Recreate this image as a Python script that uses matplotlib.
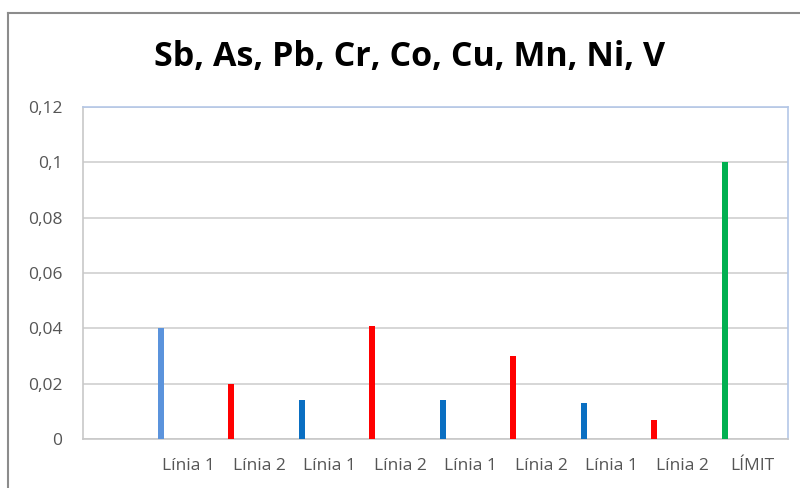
import numpy as np
import matplotlib.pyplot as plt
from matplotlib.lines import Line2D
from matplotlib.ticker import FixedLocator

categories = ['', 'Línia 1', 'Línia 2', 'Línia 1', 'Línia 2', 'Línia 1',
              'Línia 2', 'Línia 1', 'Línia 2', 'LÍMIT']
values = [0.0, 0.04, 0.02, 0.014, 0.041, 0.014, 0.03, 0.013, 0.007, 0.1]
colors = ['white', '#5B93DC', '#FF0000', '#0A6FC2', '#FF0000', '#0A6FC2',
          '#FF0000', '#0A6FC2', '#FF0000', '#00B050']
yticks = [0, 0.02, 0.04, 0.06, 0.08, 0.1, 0.12]
ytick_labels = ['0', '0,02', '0,04', '0,06', '0,08', '0,1', '0,12']
title = 'Sb, As, Pb, Cr, Co, Cu, Mn, Ni, V'

plt.rcParams['font.family'] = ['Open Sans', 'DejaVu Sans']

fig = plt.figure(figsize=(8, 4.88), dpi=100)
ax = fig.add_axes([83/800, 49/488, 705/800, 332/488])

x = np.arange(len(categories))
ax.bar(x[1:] - 0.4, values[1:], width=0.085, color=colors[1:], zorder=3)

ax.set_xlim(-0.5, len(categories) - 0.5)
ax.set_ylim(0, 0.12)
ax.yaxis.set_major_locator(FixedLocator(yticks))
ax.set_yticklabels(ytick_labels)
ax.set_xticks(x)
ax.set_xticklabels(categories)
ax.tick_params(axis='both', length=0, labelsize=12.5, labelcolor='#555555')
ax.tick_params(axis='y', pad=15)
ax.tick_params(axis='x', pad=14)
for lab in ax.get_yticklabels():
    lab.set_horizontalalignment('right')

ax.grid(axis='y', color='#D0D0D0', linewidth=1.2, zorder=0)
ax.spines['left'].set_color('#C8C8C8')
ax.spines['bottom'].set_color('#C8C8C8')
ax.spines['top'].set_color('#B4C7E7')
ax.spines['right'].set_color('#B4C7E7')
for s in ax.spines.values():
    s.set_linewidth(1.2)

fig.text(410/800, 1 - 57/488, title, ha='center', va='center',
         fontsize=24.5, fontweight='bold', color='#000000')

# outer chart border (cropped at right and bottom)
fig.add_artist(Line2D([8/800, 8/800], [0, 1 - 13/488], color='#8C8C8C', lw=1.5))
fig.add_artist(Line2D([8/800, 1], [1 - 13/488, 1 - 13/488], color='#8C8C8C', lw=1.5))

plt.savefig('out.png', dpi=100)
